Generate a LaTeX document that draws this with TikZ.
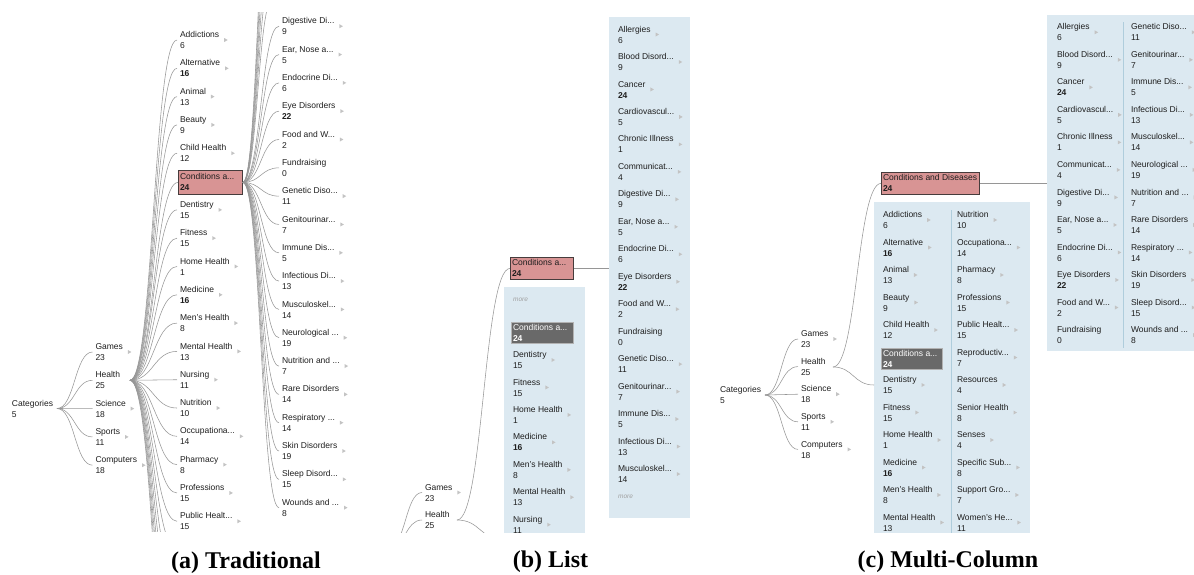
\documentclass[tikz,border=0pt]{standalone}
\usepackage{fontspec}
\setmainfont{Liberation Sans}
\newfontfamily\serifb{Liberation Serif}
\usetikzlibrary{calc}
\definecolor{txt}{RGB}{30,30,30}
\definecolor{lnc}{RGB}{150,150,150}
\definecolor{mkc}{RGB}{195,195,195}
\definecolor{panelc}{RGB}{220,233,241}
\definecolor{divc}{RGB}{175,205,220}
\definecolor{pinkc}{RGB}{216,148,148}
\definecolor{pinkd}{RGB}{70,60,60}
\definecolor{darkc}{RGB}{105,105,105}
\definecolor{moretxt}{RGB}{160,160,160}
\newcommand\dd{...}
\tikzset{
 nm/.style={anchor=base west, inner sep=0pt, outer sep=0pt, font=\fontsize{8.5}{10}\selectfont, text=txt},
 ln/.style={draw=lnc, line width=0.55pt},
 mk/.style={fill=mkc},
 pbox/.style={draw=pinkd, fill=pinkc, line width=0.8pt, inner sep=0pt, anchor=north west},
 dbox/.style={draw=gray!60, fill=darkc, line width=0.6pt, inner sep=0pt, anchor=north west},
 panel/.style={fill=panelc, draw=none, inner sep=0pt, anchor=north west},
 divl/.style={draw=divc, line width=0.8pt},
 more/.style={anchor=base west, inner sep=0pt, font=\fontsize{6.5}{8}\selectfont\itshape, text=moretxt},
 ttl/.style={anchor=base, inner sep=0pt, font=\serifb\bfseries\fontsize{24}{28}\selectfont},
}
\newcommand\itm[6]{%
  \node[nm] (#1) at (#2,#3-2.4) {#4};
  \node[nm] (#1n) at (#2,#3+8.6) {#5};
  \coordinate (#1-in) at (#2-3,#3);
  \ifnum#6=1\relax\fill[mk] ($(#1.base east)+(5,0.4)$) -- ++(3.5,2) -- ++(-3.5,2) -- cycle;\fi
}
\newcommand\lnk[2]{\draw[ln] let \p1=(#1), \p2=(#2) in (\p1) .. controls ({(\x1+\x2)/2},\y1) and ({(\x1+\x2)/2},\y2) .. (\p2);}
\begin{document}
\begin{tikzpicture}[x=1pt,y=-1pt]
\useasboundingbox (0,0) rectangle (1194,574);
% ================= (a) Traditional
\begin{scope}
\clip (0,12) rectangle (365,531);
\itm{aCat}{12}{408.5}{Categories}{5}{0}
\coordinate (aCat-out) at (57,408.5);
\foreach \nmx/\ctx/\arx [count=\i from 0] in {Games/23/1,Health/25/0,Science/18/1,Sports/11/1,Computers/18/1}{
  \pgfmathsetmacro\yy{352+\i*28.3}
  \itm{a1-\i}{95.5}{\yy}{\nmx}{\ctx}{\arx}
  \lnk{aCat-out}{a1-\i-in}
}
\coordinate (aHealth-out) at (130,380.3);
\foreach \nmx/\ctx/\arx [count=\i from 0] in {Addictions/6/1,Alternative/{\textbf{16}}/1,Animal/13/1,Beauty/9/1,Child Health/12/1}{
  \pgfmathsetmacro\yy{40+\i*28.31}
  \itm{a2-\i}{180}{\yy}{\nmx}{\ctx}{\arx}
  \lnk{aHealth-out}{a2-\i-in}
}
\node[pbox, minimum width=64pt, minimum height=24pt] (aCond) at (178,170) {};
\node[nm] (aCondT) at (180,179.2) {Conditions a\dd};
\node[nm] (aCondN) at (180,190.2) {\textbf{24}};
\lnk{aHealth-out}{aCond.west}
\foreach \nmx/\ctx/\arx [count=\i from 6] in {Dentistry/15/1,Fitness/15/1,Home Health/1/1,Medicine/{\textbf{16}}/1,Men’s Health/8/1,Mental Health/13/1,Nursing/11/1,Nutrition/10/1,Occupationa\dd/14/1,Pharmacy/8/1,Professions/15/1,Public Healt\dd/15/1}{
  \pgfmathsetmacro\yy{40+\i*28.31}
  \itm{a2-\i}{180}{\yy}{\nmx}{\ctx}{\arx}
  \lnk{aHealth-out}{a2-\i-in}
}
\foreach \i in {18,19,20,21,22,23,24}{
  \coordinate (a2-\i-in) at (177,{40+\i*28.31});
  \lnk{aHealth-out}{a2-\i-in}
}
\foreach \i in {0,1,2,3,4,5}{
  \coordinate (a3-\i-in) at (273,{-143.7+\i*28.32});
  \lnk{aCond.east}{a3-\i-in}
}
\foreach \nmx/\ctx/\arx [count=\i from 6] in {Digestive Di\dd/9/1,{Ear, Nose a\dd}/5/1,Endocrine Di\dd/6/1,Eye Disorders/{\textbf{22}}/1,Food and W\dd/2/1,Fundraising/0/0,Genetic Diso\dd/11/1,Genitourinar\dd/7/1,Immune Dis\dd/5/1,Infectious Di\dd/13/1,Musculoskel\dd/14/1,Neurological \dd/19/1,Nutrition and \dd/7/1,Rare Disorders/14/1,Respiratory \dd/14/1,Skin Disorders/19/1,Sleep Disord\dd/15/1,Wounds and \dd/8/1}{
  \pgfmathsetmacro\yy{-143.7+\i*28.32}
  \itm{a3-\i}{282}{\yy}{\nmx}{\ctx}{\arx}
  \lnk{aCond.east}{a3-\i-in}
}
\end{scope}
% ================= (b) List
\begin{scope}
\clip (400,0) rectangle (700,532);
\node[panel, minimum width=81pt, minimum height=260pt] (bL) at (504,287) {};
\node[panel, minimum width=81pt, minimum height=501pt] (bR) at (609,17) {};
\coordinate (bCat-out) at (389,547.5);
\itm{b1-0}{425}{492.5}{Games}{23}{1}
\itm{b1-1}{425}{520}{Health}{25}{0}
\lnk{bCat-out}{b1-0-in}
\lnk{bCat-out}{b1-1-in}
\coordinate (bHealth-out) at (457,520);
\node[pbox, minimum width=63pt, minimum height=22pt] (bCond) at (510,257) {};
\node[nm] (bCondT) at (512,265.6) {Conditions a\dd};
\node[nm] (bCondN) at (512,276.6) {\textbf{24}};
\lnk{bHealth-out}{bCond.west}
\coordinate (bL-in) at (504,540);
\lnk{bHealth-out}{bL-in}
\draw[ln] (bCond.east) -- (bCond.east -| bR.west);
\node[more] (bMore1) at (513,301.5) {more};
\node[dbox, minimum width=62pt, minimum height=21pt] (bCur) at (511,322) {};
\node[nm,text=white] (bCurT) at (513,330.1) {Conditions a\dd};
\node[nm,text=white] (bCurN) at (513,341.1) {\textbf{24}};
\foreach \nmx/\ctx/\arx [count=\i from 0] in {Dentistry/15/1,Fitness/15/1,Home Health/1/1,Medicine/{\textbf{16}}/1,Men’s Health/8/1,Mental Health/13/1,Nursing/11/1}{
  \pgfmathsetmacro\yy{360+\i*27.45}
  \itm{bl2-\i}{513}{\yy}{\nmx}{\ctx}{\arx}
}
\foreach \nmx/\ctx/\arx [count=\i from 0] in {Allergies/6/1,Blood Disord\dd/9/1,Cancer/{\textbf{24}}/1,Cardiovascul\dd/5/1,Chronic Illness/1/1,Communicat\dd/4/1,Digestive Di\dd/9/1,{Ear, Nose a\dd}/5/1,Endocrine Di\dd/6/1,Eye Disorders/{\textbf{22}}/1,Food and W\dd/2/1,Fundraising/0/0,Genetic Diso\dd/11/1,Genitourinar\dd/7/1,Immune Dis\dd/5/1,Infectious Di\dd/13/1,Musculoskel\dd/14/1}{
  \pgfmathsetmacro\yy{34.5+\i*27.47}
  \itm{br3-\i}{618}{\yy}{\nmx}{\ctx}{\arx}
}
\node[more] (bMore2) at (618,498.5) {more};
\end{scope}
% ================= (c) Multi-Column
\begin{scope}
\clip (705,0) rectangle (1194,532);
\node[panel, minimum width=156pt, minimum height=340pt] (cL) at (874,202) {};
\node[panel, minimum width=150pt, minimum height=336pt] (cR) at (1047,15) {};
\draw[divl] (951,210) -- (951,540);
\draw[divl] (1123,22) -- (1123,348);
\itm{cCat}{720}{395}{Categories}{5}{0}
\coordinate (cCat-out) at (765,395);
\foreach \nmx/\ctx/\arx [count=\i from 0] in {Games/23/1,Health/25/0,Science/18/1,Sports/11/1,Computers/18/1}{
  \pgfmathsetmacro\yy{339+\i*27.6}
  \itm{c1-\i}{801}{\yy}{\nmx}{\ctx}{\arx}
  \lnk{cCat-out}{c1-\i-in}
}
\coordinate (cHealth-out) at (833,367);
\node[pbox, minimum width=98pt, minimum height=22pt] (cCond) at (881,172) {};
\node[nm] (cCondT) at (883,180.6) {Conditions and Diseases};
\node[nm] (cCondN) at (883,191.6) {\textbf{24}};
\lnk{cHealth-out}{cCond.west}
\coordinate (cL-in) at (874,385);
\lnk{cHealth-out}{cL-in}
\draw[ln] (cCond.east) -- (cCond.east -| cR.west);
\foreach \nmx/\ctx/\arx [count=\i from 0] in {Addictions/6/1,Alternative/{\textbf{16}}/1,Animal/13/1,Beauty/9/1,Child Health/12/1}{
  \pgfmathsetmacro\yy{220+\i*27.5}
  \itm{cl2-\i}{883}{\yy}{\nmx}{\ctx}{\arx}
}
\node[dbox, minimum width=61pt, minimum height=21pt] (cCur) at (881,348) {};
\node[nm,text=white] (cCurT) at (883,356.1) {Conditions a\dd};
\node[nm,text=white] (cCurN) at (883,367.1) {\textbf{24}};
\foreach \nmx/\ctx/\arx [count=\i from 6] in {Dentistry/15/1,Fitness/15/1,Home Health/1/1,Medicine/{\textbf{16}}/1,Men’s Health/8/1,Mental Health/13/1}{
  \pgfmathsetmacro\yy{220+\i*27.5}
  \itm{cl2-\i}{883}{\yy}{\nmx}{\ctx}{\arx}
}
\foreach \nmx/\ctx/\arx [count=\i from 0] in {Nutrition/10/1,Occupationa\dd/14/1,Pharmacy/8/1,Professions/15/1,Public Healt\dd/15/1,Reproductiv\dd/7/1,Resources/4/1,Senior Health/8/1,Senses/4/1,Specific Sub\dd/8/1,Support Gro\dd/7/1,Women’s He\dd/11/1}{
  \pgfmathsetmacro\yy{220+\i*27.5}
  \itm{cr2-\i}{957}{\yy}{\nmx}{\ctx}{\arx}
}
\foreach \nmx/\ctx/\arx [count=\i from 0] in {Allergies/6/1,Blood Disord\dd/9/1,Cancer/{\textbf{24}}/1,Cardiovascul\dd/5/1,Chronic Illness/1/1,Communicat\dd/4/1,Digestive Di\dd/9/1,{Ear, Nose a\dd}/5/1,Endocrine Di\dd/6/1,Eye Disorders/{\textbf{22}}/1,Food and W\dd/2/1,Fundraising/0/0}{
  \pgfmathsetmacro\yy{32.3+\i*27.52}
  \itm{cl3-\i}{1057}{\yy}{\nmx}{\ctx}{\arx}
}
\foreach \nmx/\ctx/\arx [count=\i from 0] in {Genetic Diso\dd/11/1,Genitourinar\dd/7/1,Immune Dis\dd/5/1,Infectious Di\dd/13/1,Musculoskel\dd/14/1,Neurological \dd/19/1,Nutrition and \dd/7/1,Rare Disorders/14/1,Respiratory \dd/14/1,Skin Disorders/19/1,Sleep Disord\dd/15/1,Wounds and \dd/8/1}{
  \pgfmathsetmacro\yy{32.3+\i*27.52}
  \itm{cr3-\i}{1131}{\yy}{\nmx}{\ctx}{\arx}
}
\end{scope}
% ================= titles
\node[ttl] (tA) at (246,568) {(a) Traditional};
\node[ttl] (tB) at (550.5,567) {(b) List};
\node[ttl] (tC) at (948,567) {(c) Multi-Column};
\end{tikzpicture}
\end{document}
